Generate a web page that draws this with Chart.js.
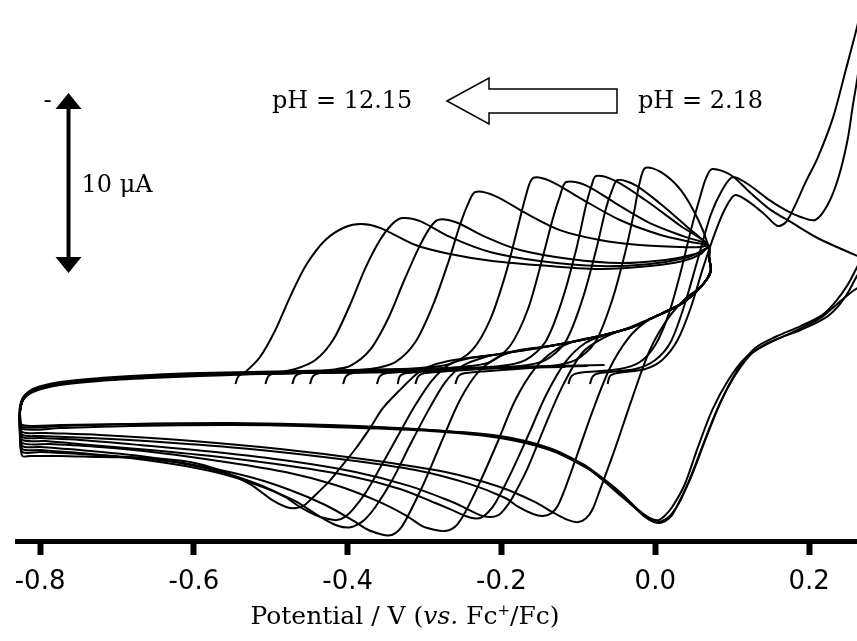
<!DOCTYPE html>
<html><head><meta charset="utf-8">
<script src="https://cdn.jsdelivr.net/npm/chart.js@4.4.1/dist/chart.umd.min.js"></script>
<style>html,body{margin:0;padding:0;background:#fff}</style>
</head><body>
<canvas id="c" width="857" height="641"></canvas>
<script>
// x tick values (V vs Fc+/Fc)
const xTicks = [-0.8, -0.6, -0.4, -0.2, 0.0, 0.2];
const xTitleParts = ['Potential / V (', 'vs.', ' Fc', '+', '/Fc)'];
const phHigh = 'pH = 12.15';
const phLow = 'pH = 2.18';
const scaleBarLabel = '10 \u03bcA';
const scaleBarSpan = 10;          // μA
const scaleBarTop = -17.06;       // μA (upper end of bar)
const scaleBarE = -0.763;         // V (bar position)

// cyclic voltammograms: [E (V), I (μA)], one array per pH
const cv1 = [[-0.546,-0.89],[-0.542,-1.33],[-0.533,-1.56],[-0.514,-2.39],[-0.494,-3.89],[-0.475,-5.72],[-0.454,-7.5],[-0.429,-8.89],[-0.403,-9.61],[-0.382,-9.78],[-0.358,-9.56],[-0.312,-8.61],[-0.267,-8.11],[-0.212,-7.72],[-0.137,-7.44],[-0.070,-7.28],[-0.007,-7.44],[0.036,-7.72],[0.059,-8.11],[0.069,-8.5],[0.070,-7.9],
[0.072,-7.11],[0.059,-6.28],[0.033,-5.33],[-0.007,-4.5],[-0.029,-4.06],[-0.072,-3.56],[-0.137,-3.0],[-0.202,-2.56],[-0.269,-2.17],[-0.299,-1.78],[-0.312,-1.39],[-0.332,-0.56],[-0.354,0.44],[-0.371,1.56],[-0.390,2.72],[-0.410,3.78],[-0.425,4.56],[-0.446,5.44],[-0.456,5.83],[-0.467,6.0],
[-0.480,5.94],[-0.498,5.56],[-0.527,4.67],[-0.566,3.89],[-0.605,3.44],[-0.657,3.22],[-0.722,3.17],[-0.774,3.11],[-0.813,3.11],[-0.823,3.11],[-0.826,2.22],[-0.826,0.67],[-0.821,-0.06],[-0.806,-0.5],[-0.774,-0.83],[-0.722,-1.06],[-0.657,-1.22],[-0.592,-1.33],[-0.550,-1.39]];
const cv2 = [[-0.507,-0.89],[-0.503,-1.33],[-0.494,-1.5],[-0.468,-1.72],[-0.442,-2.22],[-0.419,-3.33],[-0.397,-5.28],[-0.377,-7.33],[-0.358,-8.89],[-0.342,-9.78],[-0.329,-10.11],[-0.306,-9.94],[-0.267,-9.06],[-0.215,-8.22],[-0.150,-7.72],[-0.072,-7.44],[-0.007,-7.56],[0.039,-7.89],[0.059,-8.22],[0.069,-8.44],[0.070,-7.9],
[0.072,-7.11],[0.059,-6.28],[0.033,-5.33],[-0.007,-4.5],[-0.029,-4.06],[-0.072,-3.56],[-0.137,-3.0],[-0.202,-2.56],[-0.241,-2.33],[-0.267,-2.0],[-0.290,-1.11],[-0.312,0.28],[-0.334,1.94],[-0.358,3.78],[-0.377,5.17],[-0.394,6.11],[-0.404,6.5],[-0.414,6.67],
[-0.425,6.61],[-0.442,6.39],[-0.462,5.94],[-0.481,5.39],[-0.514,4.72],[-0.559,4.06],[-0.618,3.5],[-0.683,3.17],[-0.748,3.0],[-0.800,2.89],[-0.823,2.89],[-0.826,2.0],[-0.826,0.61],[-0.821,-0.11],[-0.806,-0.56],[-0.774,-0.89],[-0.722,-1.11],[-0.657,-1.28],[-0.592,-1.39],[-0.511,-1.44]];
const cv3 = [[-0.472,-0.89],[-0.468,-1.33],[-0.459,-1.5],[-0.423,-1.67],[-0.397,-1.89],[-0.371,-2.78],[-0.347,-4.56],[-0.328,-6.5],[-0.309,-8.33],[-0.295,-9.44],[-0.283,-10.0],[-0.260,-9.89],[-0.221,-9.06],[-0.176,-8.33],[-0.111,-7.83],[-0.046,-7.61],[0.013,-7.78],[0.052,-8.11],[0.069,-8.44],[0.070,-7.9],
[0.072,-7.11],[0.059,-6.28],[0.033,-5.33],[-0.007,-4.5],[-0.029,-4.06],[-0.072,-3.56],[-0.137,-3.0],[-0.189,-2.67],[-0.221,-2.39],[-0.251,-1.89],[-0.273,-1.0],[-0.295,0.56],[-0.319,2.5],[-0.342,4.44],[-0.364,5.94],[-0.377,6.61],[-0.388,6.94],[-0.398,7.08],
[-0.412,7.0],[-0.433,6.56],[-0.468,5.61],[-0.507,4.89],[-0.553,4.22],[-0.611,3.67],[-0.683,3.22],[-0.748,2.94],[-0.800,2.78],[-0.823,2.72],[-0.826,1.89],[-0.826,0.56],[-0.821,-0.17],[-0.806,-0.61],[-0.774,-0.94],[-0.722,-1.17],[-0.657,-1.33],[-0.592,-1.44],[-0.475,-1.5]];
const cv4 = [[-0.449,-0.89],[-0.445,-1.33],[-0.436,-1.5],[-0.371,-1.72],[-0.338,-2.11],[-0.312,-3.22],[-0.289,-5.28],[-0.269,-7.67],[-0.254,-9.72],[-0.243,-10.94],[-0.234,-11.56],[-0.208,-11.33],[-0.169,-10.39],[-0.124,-9.44],[-0.072,-8.89],[-0.020,-8.61],[0.033,-8.5],[0.059,-8.5],[0.069,-8.56],[0.070,-7.9],
[0.072,-7.17],[0.059,-6.28],[0.033,-5.33],[-0.007,-4.5],[-0.029,-4.06],[-0.072,-3.56],[-0.137,-3.0],[-0.176,-2.78],[-0.204,-2.39],[-0.230,-1.56],[-0.254,0.0],[-0.277,2.22],[-0.299,4.44],[-0.319,6.22],[-0.330,7.06],[-0.338,7.39],[-0.347,7.53],
[-0.358,7.44],[-0.373,7.22],[-0.394,6.67],[-0.429,5.83],[-0.475,5.0],[-0.527,4.28],[-0.592,3.67],[-0.670,3.11],[-0.748,2.78],[-0.800,2.61],[-0.823,2.56],[-0.826,1.78],[-0.826,0.56],[-0.821,-0.11],[-0.806,-0.56],[-0.774,-0.89],[-0.722,-1.11],[-0.657,-1.28],[-0.592,-1.39],[-0.455,-1.5]];
const cv5 = [[-0.406,-0.89],[-0.402,-1.33],[-0.393,-1.5],[-0.306,-1.78],[-0.267,-2.0],[-0.238,-2.78],[-0.215,-4.44],[-0.195,-6.94],[-0.179,-9.56],[-0.168,-11.39],[-0.159,-12.33],[-0.137,-12.17],[-0.098,-11.22],[-0.046,-10.0],[0.007,-9.17],[0.046,-8.78],[0.069,-8.56],[0.070,-7.9],
[0.072,-7.11],[0.059,-6.28],[0.033,-5.33],[-0.007,-4.5],[-0.029,-4.06],[-0.072,-3.56],[-0.104,-3.28],[-0.130,-2.78],[-0.156,-1.78],[-0.182,0.0],[-0.205,2.33],[-0.228,4.56],[-0.247,6.22],[-0.257,6.89],[-0.265,7.17],[-0.274,7.28],
[-0.286,7.22],[-0.303,7.0],[-0.325,6.39],[-0.364,5.56],[-0.416,4.72],[-0.481,4.0],[-0.559,3.44],[-0.644,2.94],[-0.722,2.61],[-0.787,2.44],[-0.823,2.39],[-0.826,1.67],[-0.826,0.56],[-0.821,-0.11],[-0.806,-0.56],[-0.774,-0.89],[-0.722,-1.11],[-0.657,-1.28],[-0.592,-1.39],[-0.462,-1.56],[-0.410,-1.56]];
const cv6 = [[-0.362,-0.89],[-0.358,-1.33],[-0.349,-1.5],[-0.254,-1.83],[-0.215,-2.11],[-0.189,-3.0],[-0.166,-5.0],[-0.148,-7.67],[-0.133,-10.11],[-0.124,-11.33],[-0.116,-12.11],[-0.091,-11.94],[-0.052,-10.94],[-0.007,-9.83],[0.039,-9.06],[0.069,-8.61],[0.070,-7.9],
[0.072,-7.17],[0.059,-6.28],[0.033,-5.33],[-0.007,-4.5],[-0.029,-4.06],[-0.065,-3.61],[-0.091,-3.17],[-0.117,-2.11],[-0.142,-0.28],[-0.165,1.94],[-0.189,4.17],[-0.208,5.72],[-0.217,6.22],[-0.225,6.5],[-0.234,6.58],
[-0.247,6.44],[-0.267,6.06],[-0.286,5.72],[-0.332,4.94],[-0.397,4.22],[-0.475,3.67],[-0.566,3.17],[-0.657,2.78],[-0.735,2.5],[-0.793,2.28],[-0.823,2.22],[-0.826,1.56],[-0.826,0.56],[-0.821,-0.17],[-0.806,-0.61],[-0.774,-0.94],[-0.722,-1.17],[-0.657,-1.33],[-0.592,-1.44],[-0.462,-1.56],[-0.365,-1.56]];
const cv7 = [[-0.335,-0.89],[-0.332,-1.33],[-0.322,-1.5],[-0.202,-1.89],[-0.169,-2.22],[-0.143,-3.22],[-0.121,-5.56],[-0.103,-8.33],[-0.090,-10.83],[-0.083,-11.89],[-0.077,-12.44],[-0.052,-12.17],[-0.013,-11.11],[0.033,-9.67],[0.069,-8.61],[0.070,-7.9],
[0.072,-7.17],[0.059,-6.28],[0.033,-5.33],[-0.007,-4.5],[-0.039,-3.94],[-0.065,-3.5],[-0.094,-2.67],[-0.120,-0.83],[-0.143,1.39],[-0.166,3.78],[-0.186,5.44],[-0.196,6.06],[-0.204,6.39],[-0.215,6.5],
[-0.228,6.39],[-0.247,6.0],[-0.267,5.61],[-0.319,4.78],[-0.390,4.0],[-0.475,3.39],[-0.572,2.89],[-0.670,2.5],[-0.748,2.22],[-0.800,2.11],[-0.823,2.06],[-0.826,1.44],[-0.826,0.56],[-0.821,-0.11],[-0.806,-0.56],[-0.774,-0.89],[-0.722,-1.11],[-0.657,-1.28],[-0.592,-1.39],[-0.462,-1.5],[-0.339,-1.56]];
const cv8 = [[-0.312,-0.89],[-0.308,-1.33],[-0.299,-1.5],[-0.176,-1.89],[-0.143,-2.22],[-0.117,-3.22],[-0.095,-5.56],[-0.077,-8.33],[-0.064,-10.67],[-0.056,-11.67],[-0.049,-12.22],[-0.026,-11.94],[0.007,-10.89],[0.043,-9.56],[0.069,-8.56],[0.070,-7.9],
[0.072,-7.17],[0.059,-6.28],[0.033,-5.33],[0.009,-4.83],[-0.013,-4.33],[-0.035,-3.44],[-0.059,-1.78],[-0.082,0.67],[-0.103,3.22],[-0.118,5.0],[-0.127,5.89],[-0.135,6.28],[-0.146,6.44],
[-0.159,6.33],[-0.178,5.94],[-0.195,5.44],[-0.241,4.67],[-0.312,3.89],[-0.410,3.28],[-0.527,2.72],[-0.644,2.33],[-0.735,2.11],[-0.800,2.0],[-0.823,1.94],[-0.826,1.33],[-0.826,0.56],[-0.821,-0.11],[-0.806,-0.56],[-0.774,-0.89],[-0.722,-1.11],[-0.657,-1.28],[-0.592,-1.39],[-0.462,-1.5],[-0.316,-1.56]];
const cv9 = [[-0.260,-0.89],[-0.256,-1.33],[-0.247,-1.5],[-0.137,-1.89],[-0.104,-2.22],[-0.078,-3.22],[-0.056,-5.56],[-0.039,-8.22],[-0.027,-10.56],[-0.021,-11.94],[-0.013,-12.89],[0.007,-12.67],[0.033,-11.67],[0.056,-10.0],[0.069,-8.56],[0.070,-7.9],
[0.072,-7.17],[0.059,-6.28],[0.040,-5.67],[0.017,-4.56],[-0.007,-2.78],[-0.030,-0.11],[-0.053,2.78],[-0.072,5.0],[-0.082,6.11],[-0.090,6.56],[-0.100,6.78],
[-0.113,6.67],[-0.134,6.22],[-0.156,5.67],[-0.202,4.83],[-0.273,4.0],[-0.371,3.33],[-0.488,2.72],[-0.618,2.22],[-0.722,1.94],[-0.793,1.83],[-0.823,1.78],[-0.826,1.22],[-0.826,0.56],[-0.821,-0.11],[-0.806,-0.56],[-0.774,-0.89],[-0.722,-1.11],[-0.657,-1.28],[-0.592,-1.39],[-0.462,-1.5],[-0.332,-1.61],[-0.264,-1.67]];
const cv10 = [[-0.113,-0.89],[-0.109,-1.33],[-0.100,-1.5],[-0.046,-1.72],[-0.020,-2.11],[0.000,-3.06],[0.017,-4.72],[0.033,-7.11],[0.047,-9.56],[0.059,-11.39],[0.066,-12.33],[0.074,-12.83],[0.098,-12.5],[0.124,-11.5],[0.150,-10.56],[0.176,-9.89],[0.211,-9.0],[0.263,-8.0],[0.293,-7.5],[0.319,-6.94],
[0.293,-6.67],[0.263,-6.22],[0.235,-5.28],[0.215,-4.56],[0.176,-3.72],[0.143,-3.06],[0.117,-2.33],[0.095,-1.11],[0.074,0.56],[0.055,2.67],[0.038,4.72],[0.022,5.94],[0.012,6.44],[0.004,6.67],
[-0.007,6.56],[-0.020,6.17],[-0.035,5.56],[-0.049,5.0],[-0.072,4.22],[-0.094,3.56],[-0.137,2.67],[-0.202,2.0],[-0.293,1.67],[-0.423,1.44],[-0.553,1.39],[-0.683,1.44],[-0.774,1.56],[-0.823,1.61],[-0.826,1.0],[-0.826,0.44],[-0.821,-0.17],[-0.806,-0.61],[-0.774,-0.94],[-0.722,-1.17],[-0.657,-1.33],[-0.592,-1.44],[-0.462,-1.56],[-0.332,-1.67],[-0.202,-1.78],[-0.117,-1.83]];
const cv11 = [[-0.085,-0.89],[-0.081,-1.33],[-0.072,-1.5],[-0.026,-1.72],[0.000,-2.22],[0.020,-3.22],[0.038,-5.28],[0.055,-7.78],[0.072,-10.28],[0.087,-11.67],[0.101,-12.39],[0.124,-11.89],[0.146,-11.17],[0.169,-10.56],[0.189,-10.17],[0.208,-10.0],[0.224,-10.83],[0.238,-12.33],[0.250,-14.44],[0.257,-16.39],[0.263,-17.94],[0.273,-21.11],[0.319,-25.56],
[0.306,-11.11],[0.263,-7.44],[0.250,-6.39],[0.234,-5.44],[0.217,-4.72],[0.189,-4.11],[0.156,-3.5],[0.130,-2.89],[0.111,-1.94],[0.091,-0.44],[0.072,1.39],[0.052,3.61],[0.033,5.56],[0.020,6.39],[0.009,6.72],[0.000,6.78],
[-0.013,6.5],[-0.030,5.83],[-0.046,5.22],[-0.068,4.44],[-0.091,3.72],[-0.137,2.72],[-0.202,2.06],[-0.293,1.67],[-0.423,1.39],[-0.553,1.28],[-0.683,1.33],[-0.774,1.44],[-0.823,1.5],[-0.826,0.89],[-0.826,0.39],[-0.821,-0.17],[-0.806,-0.61],[-0.774,-0.94],[-0.722,-1.17],[-0.657,-1.33],[-0.592,-1.44],[-0.462,-1.56],[-0.332,-1.67],[-0.202,-1.78],[-0.088,-1.89]];
const cv12 = [[-0.062,-0.89],[-0.059,-1.33],[-0.049,-1.5],[-0.013,-1.72],[0.009,-2.22],[0.029,-3.33],[0.046,-5.11],[0.062,-7.33],[0.079,-9.44],[0.092,-10.72],[0.104,-11.39],[0.124,-10.94],[0.143,-10.28],[0.159,-9.67],[0.170,-9.89],[0.182,-10.83],[0.195,-12.06],[0.211,-13.44],[0.231,-15.67],[0.247,-18.22],[0.263,-20.83],[0.273,-22.78],[0.325,-25.56],
[0.312,-10.0],[0.263,-6.94],[0.251,-6.0],[0.238,-5.22],[0.221,-4.56],[0.189,-3.89],[0.152,-3.28],[0.126,-2.61],[0.104,-1.39],[0.085,0.11],[0.065,2.22],[0.046,4.33],[0.029,5.83],[0.021,6.44],[0.013,6.72],[0.004,6.83],
[-0.009,6.61],[-0.026,6.0],[-0.043,5.39],[-0.065,4.56],[-0.087,3.83],[-0.137,2.78],[-0.202,2.11],[-0.293,1.72],[-0.423,1.5],[-0.553,1.33],[-0.683,1.33],[-0.774,1.39],[-0.823,1.39],[-0.826,0.83],[-0.826,0.33],[-0.821,-0.22],[-0.806,-0.67],[-0.774,-1.0],[-0.722,-1.22],[-0.657,-1.39],[-0.592,-1.5],[-0.462,-1.61],[-0.332,-1.72],[-0.202,-1.83],[-0.066,-1.94]];

const curves = [cv1, cv2, cv3, cv4, cv5, cv6, cv7, cv8, cv9, cv10, cv11, cv12];
const curveNames = ['pH 12.15','CV 2','CV 3','CV 4','CV 5','CV 6','CV 7','CV 8','CV 9','CV 10','CV 11','pH 2.18'];

const SERIF = '"DejaVu Serif", "Liberation Serif", serif';

const annotations = {
  id: 'annotations',
  afterDraw(chart) {
    const ctx = chart.ctx;
    const xs = chart.scales.x, ys = chart.scales.y;
    ctx.save();
    ctx.fillStyle = '#000'; ctx.strokeStyle = '#000';
    // scale bar (10 μA) drawn through the y scale
    const bx = xs.getPixelForValue(scaleBarE);
    const yTop = ys.getPixelForValue(scaleBarTop);
    const yBot = ys.getPixelForValue(scaleBarTop + scaleBarSpan);
    ctx.lineWidth = 4;
    ctx.beginPath(); ctx.moveTo(bx, yTop + 10); ctx.lineTo(bx, yBot - 10); ctx.stroke();
    ctx.beginPath(); ctx.moveTo(bx, yTop); ctx.lineTo(bx - 13, yTop + 16); ctx.lineTo(bx + 13, yTop + 16); ctx.closePath(); ctx.fill();
    ctx.beginPath(); ctx.moveTo(bx, yBot); ctx.lineTo(bx - 13, yBot - 16); ctx.lineTo(bx + 13, yBot - 16); ctx.closePath(); ctx.fill();
    ctx.font = '24px ' + SERIF; ctx.textAlign = 'left'; ctx.textBaseline = 'alphabetic';
    ctx.fillText(scaleBarLabel, bx + 13, (yTop + yBot) / 2 + 9);
    ctx.fillText('-', bx - 25, yTop + 15);
    // pH labels and hollow arrow
    ctx.fillText(phHigh, 272, 108);
    ctx.fillText(phLow, 638, 108);
    const tipX = 447, cy = 101, headX = 489, endX = 617;
    ctx.beginPath();
    ctx.moveTo(tipX, cy); ctx.lineTo(headX, cy - 23); ctx.lineTo(headX, cy - 12);
    ctx.lineTo(endX, cy - 12); ctx.lineTo(endX, cy + 12); ctx.lineTo(headX, cy + 12);
    ctx.lineTo(headX, cy + 23); ctx.closePath();
    ctx.fillStyle = '#fff'; ctx.fill();
    ctx.lineWidth = 1.5; ctx.strokeStyle = '#000'; ctx.stroke();
    // axis title with italic and superscript
    ctx.fillStyle = '#000';
    const fonts = ['25px ' + SERIF, 'italic 25px ' + SERIF, '25px ' + SERIF, '15px ' + SERIF, '25px ' + SERIF];
    const dys = [0, 0, 0, -9, 0];
    let w = 0; const ws = [];
    xTitleParts.forEach((t, i) => { ctx.font = fonts[i]; ws[i] = ctx.measureText(t).width; w += ws[i]; });
    let tx = 405 - w / 2;
    xTitleParts.forEach((t, i) => { ctx.font = fonts[i]; ctx.fillText(t, tx, 624 + dys[i]); tx += ws[i]; });
    ctx.restore();
  }
};

new Chart(document.getElementById('c'), {
  type: 'scatter',
  data: {
    datasets: curves.map((cv, i) => ({
      label: curveNames[i],
      data: cv.map(p => ({x: p[0], y: p[1]})),
      showLine: true,
      borderColor: '#000',
      borderWidth: 2,
      pointRadius: 0,
      tension: 0.3,
      fill: false
    }))
  },
  options: {
    responsive: false,
    animation: false,
    events: [],
    layout: {padding: {left: 17, right: 0, top: 0, bottom: 0}},
    plugins: {legend: {display: false}, tooltip: {enabled: false}, title: {display: false}},
    scales: {
      x: {
        type: 'linear', position: 'bottom', min: -0.83, max: 0.2623,
        afterBuildTicks: axis => { axis.ticks = xTicks.map(v => ({value: v})); },
        afterFit: axis => { axis.height = 100; },
        ticks: {
          callback: v => Number(v).toFixed(1),
          color: '#000', padding: 12, maxRotation: 0,
          font: {family: '"DejaVu Sans", sans-serif', size: 26}
        },
        grid: {display: true, drawOnChartArea: false, drawTicks: true, tickLength: 14, tickWidth: 6, tickColor: '#000'},
        border: {display: true, width: 5, color: '#000'},
        title: {display: false}
      },
      y: {
        type: 'linear', display: false, reverse: true, min: -22.22, max: 7.83
      }
    }
  },
  plugins: [annotations]
});
</script>
</body></html>
